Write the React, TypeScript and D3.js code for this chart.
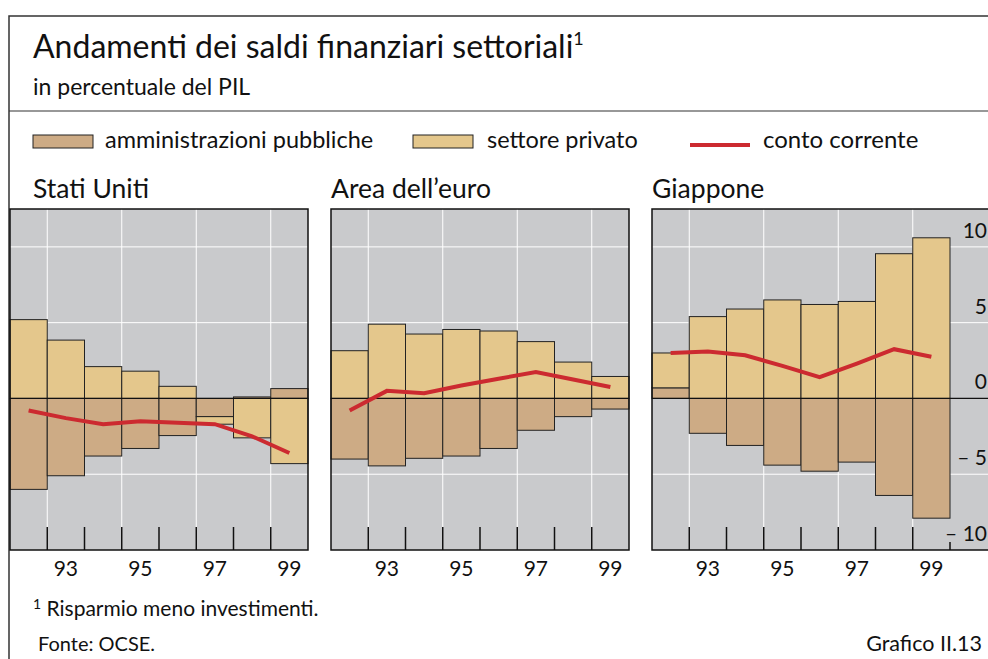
import React from 'react';
import * as d3 from 'd3';

// years shown in each panel (one bar per year)
const years = ['92', '93', '94', '95', '96', '97', '98', '99'];
const yearLabels = ['93', '95', '97', '99'];
const yTicks = [10, 5, 0, -5, -10];

const panelNames = ['Stati Uniti', 'Area dell’euro', 'Giappone'];

// amministrazioni pubbliche
const usPublic = [-6.0, -5.1, -3.8, -3.3, -2.45, -1.2, 0.1, 0.65];
const euPublic = [-4.0, -4.45, -3.95, -3.8, -3.3, -2.1, -1.2, -0.7];
const jpPublic = [0.7, -2.3, -3.1, -4.4, -4.8, -4.2, -6.4, -7.9];

// settore privato
const usPrivate = [5.2, 3.85, 2.1, 1.8, 0.8, -0.5, -2.6, -4.3];
const euPrivate = [3.15, 4.9, 4.25, 4.55, 4.45, 3.75, 2.4, 1.45];
const jpPrivate = [2.3, 5.4, 5.9, 6.5, 6.2, 6.4, 9.55, 10.6];

// conto corrente
const usCurrent = [-0.8, -1.3, -1.7, -1.5, -1.6, -1.7, -2.5, -3.6];
const euCurrent = [-0.8, 0.5, 0.35, 0.85, 1.3, 1.75, 1.25, 0.75];
const jpCurrent = [3.0, 3.1, 2.85, 2.15, 1.4, 2.3, 3.25, 2.75];

const publicSeries = [usPublic, euPublic, jpPublic];
const privateSeries = [usPrivate, euPrivate, jpPrivate];
const currentSeries = [usCurrent, euCurrent, jpCurrent];

const C_PUBLIC = '#cdab85';
const C_PRIVATE = '#e4c78c';
const C_LINE = '#cc2a30';
const C_BG = '#c9cacc';
const FONT = 'Lato, "Open Sans", sans-serif';

const W = 988;
const H = 659;
const panelLeft = [10, 331, 652];
const panelW = 298;
const top = 209;
const bottom = 550;

const y = d3.scaleLinear().domain([-10, 12.5]).range([bottom, top]);

const Panel = ({ idx }: { idx: number }) => {
  const x0 = panelLeft[idx];
  const x = d3.scaleBand().domain(years).range([x0, x0 + panelW]).padding(0);
  const rows = years.map((yr, i) => ({
    year: yr,
    public: publicSeries[idx][i],
    private: privateSeries[idx][i],
  }));
  const stack = d3
    .stack<any>()
    .keys(['public', 'private'])
    .offset(d3.stackOffsetDiverging);
  const layers = stack(rows);
  const line = d3
    .line<number>()
    .x((_, i) => (x(years[i]) as number) + x.bandwidth() / 2)
    .y((d) => y(d));
  // the Japan panel runs on to the right, under the axis labels
  const bgRight = idx === 2 ? 1010 : x0 + panelW;
  const bounds = d3.range(1, years.length + (idx === 2 ? 1 : 0));

  return (
    <g>
      <rect x={x0} y={top} width={bgRight - x0} height={bottom - top} fill={C_BG} />
      {[10, 5, -5].map((t) => (
        <line key={t} x1={x0} x2={bgRight} y1={y(t)} y2={y(t)} stroke="#fff" strokeWidth={1} />
      ))}
      {yearLabels.map((yl) => {
        const gx = x(yl) as number;
        return <line key={yl} x1={gx} x2={gx} y1={top} y2={bottom} stroke="#fff" strokeWidth={1} />;
      })}
      {layers.map((layer) => (
        <g key={layer.key}>
          {layer.map((d, i) => {
            const y1 = y(Math.max(d[0], d[1]));
            const y2 = y(Math.min(d[0], d[1]));
            return (
              <rect
                key={i}
                x={x(years[i])}
                y={y1}
                width={x.bandwidth()}
                height={Math.max(0, y2 - y1)}
                fill={layer.key === 'public' ? C_PUBLIC : C_PRIVATE}
                stroke="#222"
                strokeWidth={1}
              />
            );
          })}
        </g>
      ))}
      <line x1={x0} x2={bgRight} y1={y(0)} y2={y(0)} stroke="#111" strokeWidth={1.2} />
      <path d={line(currentSeries[idx]) || ''} fill="none" stroke={C_LINE} strokeWidth={4} />
      {bounds.map((b) => {
        const bx = x0 + b * x.bandwidth();
        const len = b === years.length ? 8 : 23;
        return <line key={b} x1={bx} x2={bx} y1={bottom - len} y2={bottom} stroke="#111" strokeWidth={1.5} />;
      })}
      {idx < 2 ? (
        <rect x={x0} y={top} width={panelW} height={bottom - top} fill="none" stroke="#111" strokeWidth={1.5} />
      ) : (
        <path
          d={`M${bgRight},${top}H${x0}V${bottom}H${bgRight}`}
          fill="none"
          stroke="#111"
          strokeWidth={1.5}
        />
      )}
      {yearLabels.map((yl) => (
        <text
          key={yl}
          x={(x(yl) as number) + x.bandwidth() / 2}
          y={576}
          textAnchor="middle"
          fontSize={21}
        >
          {yl}
        </text>
      ))}
      <text x={idx === 0 ? 33 : x0} y={198} fontSize={26.5}>
        {panelNames[idx]}
      </text>
      {idx === 2 &&
        yTicks.map((t) => (
          <text key={t} x={987} y={y(t) - 9} textAnchor="end" fontSize={21}>
            {t < 0 ? `– ${-t}` : t}
          </text>
        ))}
    </g>
  );
};

const App = () => {
  return (
    <svg
      width={W}
      height={H}
      style={{ position: 'absolute', left: 0, top: 0, background: '#fff' }}
      fontFamily={FONT}
      fill="#111"
    >
      {/* frame */}
      <path d={`M${W},16H9V${H}`} fill="none" stroke="#333" strokeWidth={1.5} />
      <line x1={9} x2={W} y1={111} y2={111} stroke="#333" strokeWidth={1.2} />

      <text x={33} y={58} fontSize={32}>
        Andamenti dei saldi finanziari settoriali
        <tspan fontSize={18} dy={-13}>1</tspan>
      </text>
      <text x={33} y={95} fontSize={23}>
        in percentuale del PIL
      </text>

      {/* legend */}
      <rect x={33} y={135} width={60} height={13} fill={C_PUBLIC} stroke="#222" strokeWidth={1} />
      <text x={105} y={148} fontSize={23.5}>amministrazioni pubbliche</text>
      <rect x={413} y={135} width={60} height={13} fill={C_PRIVATE} stroke="#222" strokeWidth={1} />
      <text x={487} y={148} fontSize={23.5}>settore privato</text>
      <line x1={690} x2={750} y1={145} y2={145} stroke={C_LINE} strokeWidth={4} />
      <text x={763} y={148} fontSize={24}>conto corrente</text>

      {panelNames.map((_, i) => (
        <Panel key={i} idx={i} />
      ))}

      <text x={33} y={616} fontSize={21}>
        <tspan fontSize={14} dy={-7}>1</tspan>
        <tspan dy={7}> Risparmio meno investimenti.</tspan>
      </text>
      <text x={38} y={651} fontSize={20}>Fonte: OCSE.</text>
      <text x={982} y={651} fontSize={21.5} textAnchor="end">Grafico II.13</text>
    </svg>
  );
};

export default App;
